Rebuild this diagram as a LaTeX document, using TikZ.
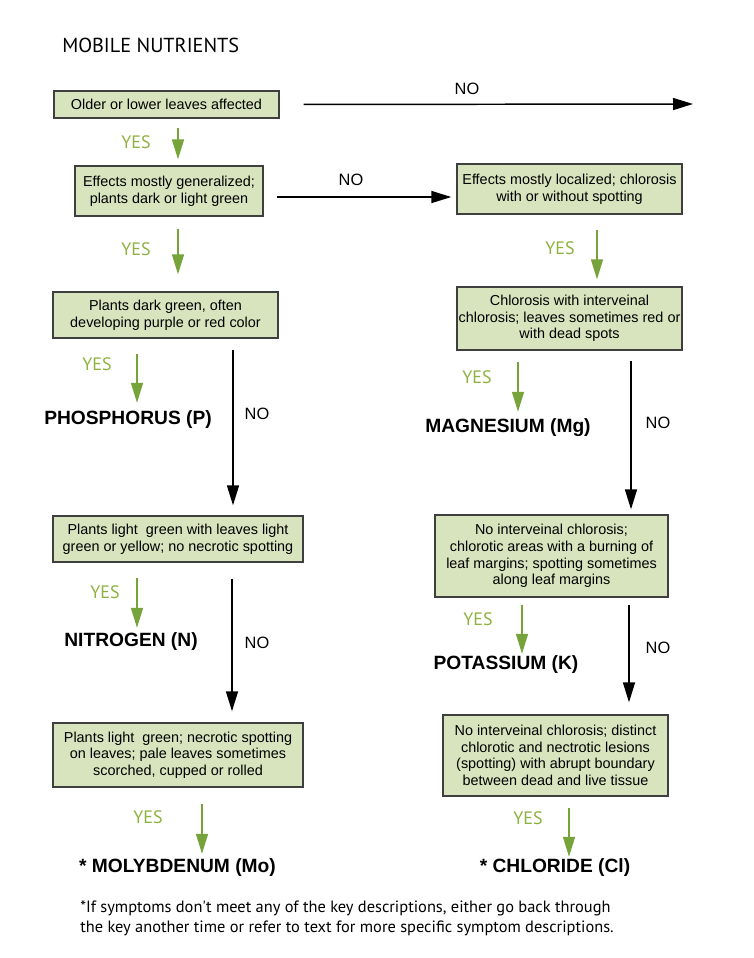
\documentclass[tikz,border=0pt]{standalone}
\usepackage{fontspec}
\setmainfont{Liberation Sans}
\newfontfamily\myrfont{PT Sans}
\usetikzlibrary{arrows.meta}
\definecolor{boxfill}{HTML}{D7E4BD}
\definecolor{boxline}{HTML}{3F3F3F}
\definecolor{arrgreen}{HTML}{77A33B}
\definecolor{yesgreen}{HTML}{8DB13F}
\def\pxu{*0.75pt}
\begin{document}
\begin{tikzpicture}[x=0.75pt,y=-0.75pt,
  box/.style={draw=boxline, line width=1pt, fill=boxfill, align=center, inner sep=0pt,
    font=\fontsize{10.8}{12.5}\selectfont},
  yesarr/.style={draw=arrgreen, line width=1.1pt, -{Triangle[length=15pt,width=9pt]}},
  noarr/.style={draw=black, line width=1.1pt, -{Triangle[length=15pt,width=9pt]}},
  yeslbl/.style={text=yesgreen, font=\myrfont\fontsize{13.5}{16}\selectfont, inner sep=0pt},
  nolbl/.style={font=\fontsize{12.3}{14}\selectfont, inner sep=0pt},
  elem/.style={font=\bfseries\fontsize{14.4}{17}\selectfont, inner sep=0pt},
  foot/.style={font=\myrfont\fontsize{12.3}{15}\selectfont, inner sep=0pt, anchor=base west}]
\useasboundingbox (0,0) rectangle (754,958);

% title
\node[anchor=west, font=\myrfont\fontsize{15.2}{18}\selectfont, inner sep=0pt] (title) at (62,45) {MOBILE NUTRIENTS};

% boxes
\node[box, minimum width=225\pxu, minimum height=27\pxu] (B1) at (166.5,104.5) {Older or lower leaves affected};
\node[box, minimum width=188\pxu, minimum height=50\pxu] (B2) at (169,191) {Effects mostly generalized;\\plants dark or light green};
\node[box, minimum width=225\pxu, minimum height=50\pxu] (R1) at (569.5,189) {Effects mostly localized; chlorosis\\with or without spotting};
\node[box, minimum width=225\pxu, minimum height=46\pxu] (B3) at (165.5,315) {Plants dark green, often\\developing purple or red color};
\node[box, minimum width=225\pxu, minimum height=63\pxu] (R2) at (569.5,318.5) {Chlorosis with interveinal\\chlorosis; leaves sometimes red or\\with dead spots};
\node[box, minimum width=250\pxu, minimum height=46\pxu] (B4) at (178,539) {Plants light\ \ green with leaves light\\green or yellow; no necrotic spotting};
\node[box, minimum width=233\pxu, minimum height=82\pxu] (R3) at (551.5,556) {No interveinal chlorosis;\\chlorotic areas with a burning of\\leaf margins; spotting sometimes\\along leaf margins};
\node[box, minimum width=250\pxu, minimum height=64\pxu] (B5) at (178,755) {Plants light\ \ green; necrotic spotting\\on leaves; pale leaves sometimes\\scorched, cupped or rolled};
\node[box, minimum width=225\pxu, minimum height=81\pxu] (R4) at (555.5,755.5) {No interveinal chlorosis; distinct\\chlorotic and nectrotic lesions\\(spotting) with abrupt boundary\\between dead and live tissue};

% results
\node[elem] (P) at (128,420) {PHOSPHORUS (P)};
\node[elem] (Mg) at (508,428) {MAGNESIUM (Mg)};
\node[elem] (N) at (131,642) {NITROGEN (N)};
\node[elem] (K) at (506,665) {POTASSIUM (K)};
\node[elem] (Mo) at (177.5,868) {* MOLYBDENUM (Mo)};
\node[elem] (Cl) at (555,868) {* CHLORIDE (Cl)};

% labels
\node[nolbl] (no0) at (467,89) {NO};
\node[nolbl] (no1) at (351,180) {NO};
\node[nolbl] (no2) at (257,414) {NO};
\node[nolbl] (no3) at (658,423) {NO};
\node[nolbl] (no4) at (257,643) {NO};
\node[nolbl] (no5) at (658,648) {NO};
\node[yeslbl] (y1) at (136,142) {YES};
\node[yeslbl] (y2) at (136,249) {YES};
\node[yeslbl] (y3) at (560,248) {YES};
\node[yeslbl] (y4) at (97,364) {YES};
\node[yeslbl] (y5) at (477,377) {YES};
\node[yeslbl] (y6) at (105,592) {YES};
\node[yeslbl] (y7) at (478,619) {YES};
\node[yeslbl] (y8) at (148,817) {YES};
\node[yeslbl] (y9) at (528,818) {YES};

% column coordinates
\coordinate (c1) at (178,0);
\coordinate (c2) at (597,0);
\coordinate (c3) at (137,0);
\coordinate (c4) at (233,0);
\coordinate (c5) at (518,0);
\coordinate (c6) at (631,0);
\coordinate (c7) at (232,0);
\coordinate (c8) at (522,0);
\coordinate (c9) at (629,0);
\coordinate (c10) at (202,0);
\coordinate (c11) at (569,0);
\coordinate (noend) at (693,104);

% connectors
\draw[noarr, shorten <=24\pxu] (B1.east) -- (noend);
\draw[noarr, shorten <=13\pxu, shorten >=5\pxu] ([yshift=-6\pxu]B2.east) -- ([yshift=-8\pxu]R1.west);
\draw[yesarr, shorten <=9\pxu, shorten >=6\pxu] (B1.south -| c1) -- (B2.north -| c1);
\draw[yesarr, shorten <=12\pxu, shorten >=17\pxu] (B2.south -| c1) -- (B3.north -| c1);
\draw[yesarr, shorten <=15\pxu, shorten >=7\pxu] (R1.south -| c2) -- (R2.north -| c2);
\draw[yesarr, shorten <=15\pxu, shorten >=8\pxu] (B3.south -| c3) -- (P.north -| c3);
\draw[noarr, shorten <=11\pxu, shorten >=10\pxu] (B3.south -| c4) -- (B4.north -| c4);
\draw[yesarr, shorten <=11\pxu, shorten >=7\pxu] (R2.south -| c5) -- (Mg.north -| c5);
\draw[noarr, shorten <=10\pxu, shorten >=5\pxu] (R2.south -| c6) -- (R3.north -| c6);
\draw[yesarr, shorten <=15\pxu, shorten >=5\pxu] (B4.south -| c3) -- (N.north -| c3);
\draw[noarr, shorten <=16\pxu, shorten >=11\pxu] (B4.south -| c7) -- (B5.north -| c7);
\draw[yesarr, shorten <=7\pxu, shorten >=2\pxu] (R3.south -| c8) -- (K.north -| c8);
\draw[noarr, shorten <=7\pxu, shorten >=12\pxu] (R3.south -| c9) -- (R4.north -| c9);
\draw[yesarr, shorten <=16\pxu, shorten >=5\pxu] (B5.south -| c10) -- (Mo.north -| c10);
\draw[yesarr, shorten <=11\pxu, shorten >=2\pxu] (R4.south -| c11) -- (Cl.north -| c11);

% footnote
\node[foot] (f1) at (80,912) {*If symptoms don't meet any of the key descriptions, either go back through};
\node[foot] (f2) at (80,932) {the key another time or refer to text for more specific symptom descriptions.};
\end{tikzpicture}
\end{document}
